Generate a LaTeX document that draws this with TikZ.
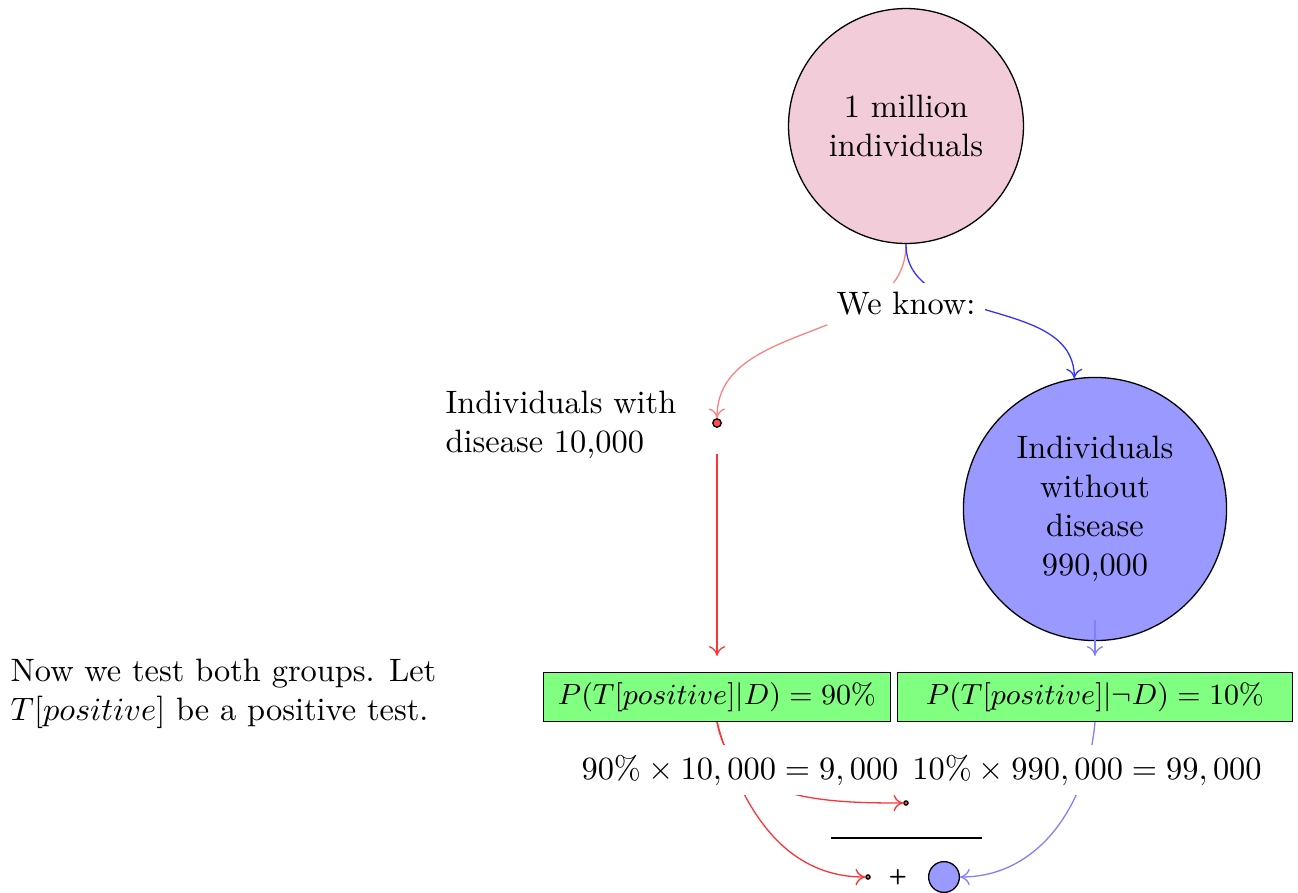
\documentclass[tikz,border=0pt]{standalone}
\usetikzlibrary{arrows.meta}
\tikzset{
  bigcirc/.style={circle, draw, align=center, inner sep=0pt},
  gbox/.style={draw, fill=green!50, inner xsep=4.5pt, inner ysep=3pt, font=\fontsize{9}{11}\selectfont},
  wlabel/.style={fill=white, inner sep=3pt},
  tinydot/.style={circle, draw, fill=red!70, inner sep=0pt, minimum size=1.3pt},
  arr/.style={-{To[length=3pt,width=5pt]}},
}
\begin{document}
\begin{tikzpicture}[x=0.3086pt,y=-0.3086pt]
\useasboundingbox (0,0) rectangle (1298,892);
\node[bigcirc, fill=purple!20, minimum size=72.5pt] (pop) at (906,126) {1 million\\individuals};
\node[bigcirc, fill=blue!40, minimum size=81.2pt] (nod) at (1095,509) {Individuals\\without\\disease\\990,000};
\node[circle, draw, fill=red!70, inner sep=0pt, minimum size=2.6pt] (dis) at (717,423) {};
\node[anchor=north west, align=left, inner sep=0pt] (distext) at (445,390) {Individuals with\\disease 10,000};
\node[gbox] (b1) at (717,697) {$P(T[positive]|D) = 90\%$};
\node[gbox, font=\fontsize{9.5}{11}\selectfont, minimum width=122pt] (b2) at (1095,697) {$P(T[positive]|\neg D) = 10\%$};
\node[tinydot] (t1) at (906,803) {};
\node[tinydot] (t2) at (868,877) {};
\node[font=\fontsize{6.5}{8}\selectfont\sffamily\bfseries] (plus) at (898,877) {+};
\node[circle, draw, fill=blue!40, inner sep=0pt, minimum size=9.5pt] (sb) at (944,877) {};
\coordinate (l1) at (831,838);
\coordinate (l2) at (982,838);
\draw (l1) -- (l2);
\node[anchor=north west, align=left, inner sep=0pt] (intro) at (10,658) {Now we test both groups. Let\\$T[positive]$ be a positive test.};
% connectors
\draw[arr, red!50] (pop.south) to[out=-90,in=90] (dis.north);
\draw[arr, blue!80] (pop.south) to[out=-90,in=90] (nod.99);
\draw[arr, red!80, shorten <=8pt, shorten >=5pt] (dis.south) -- (b1.north);
\draw[arr, blue!50] ([yshift=6.5pt]nod.south) -- ([yshift=5pt]b2.north);
\draw[arr, red!80] (b1.south) to[out=-80,in=180] (t1.west);
\draw[arr, red!80] (b1.south) to[out=-75,in=180] (t2.west);
\draw[arr, blue!50] (b2.south) to[out=-95,in=0] (sb.east);
% labels on top
\node[wlabel] (wk) at (906,304) {We know:};
\node[wlabel] (m1) at (740,770) {$90\% \times 10,000 = 9,000$};
\node[wlabel] (m2) at (1087,770) {$10\% \times 990,000 = 99,000$};
\end{tikzpicture}
\end{document}
